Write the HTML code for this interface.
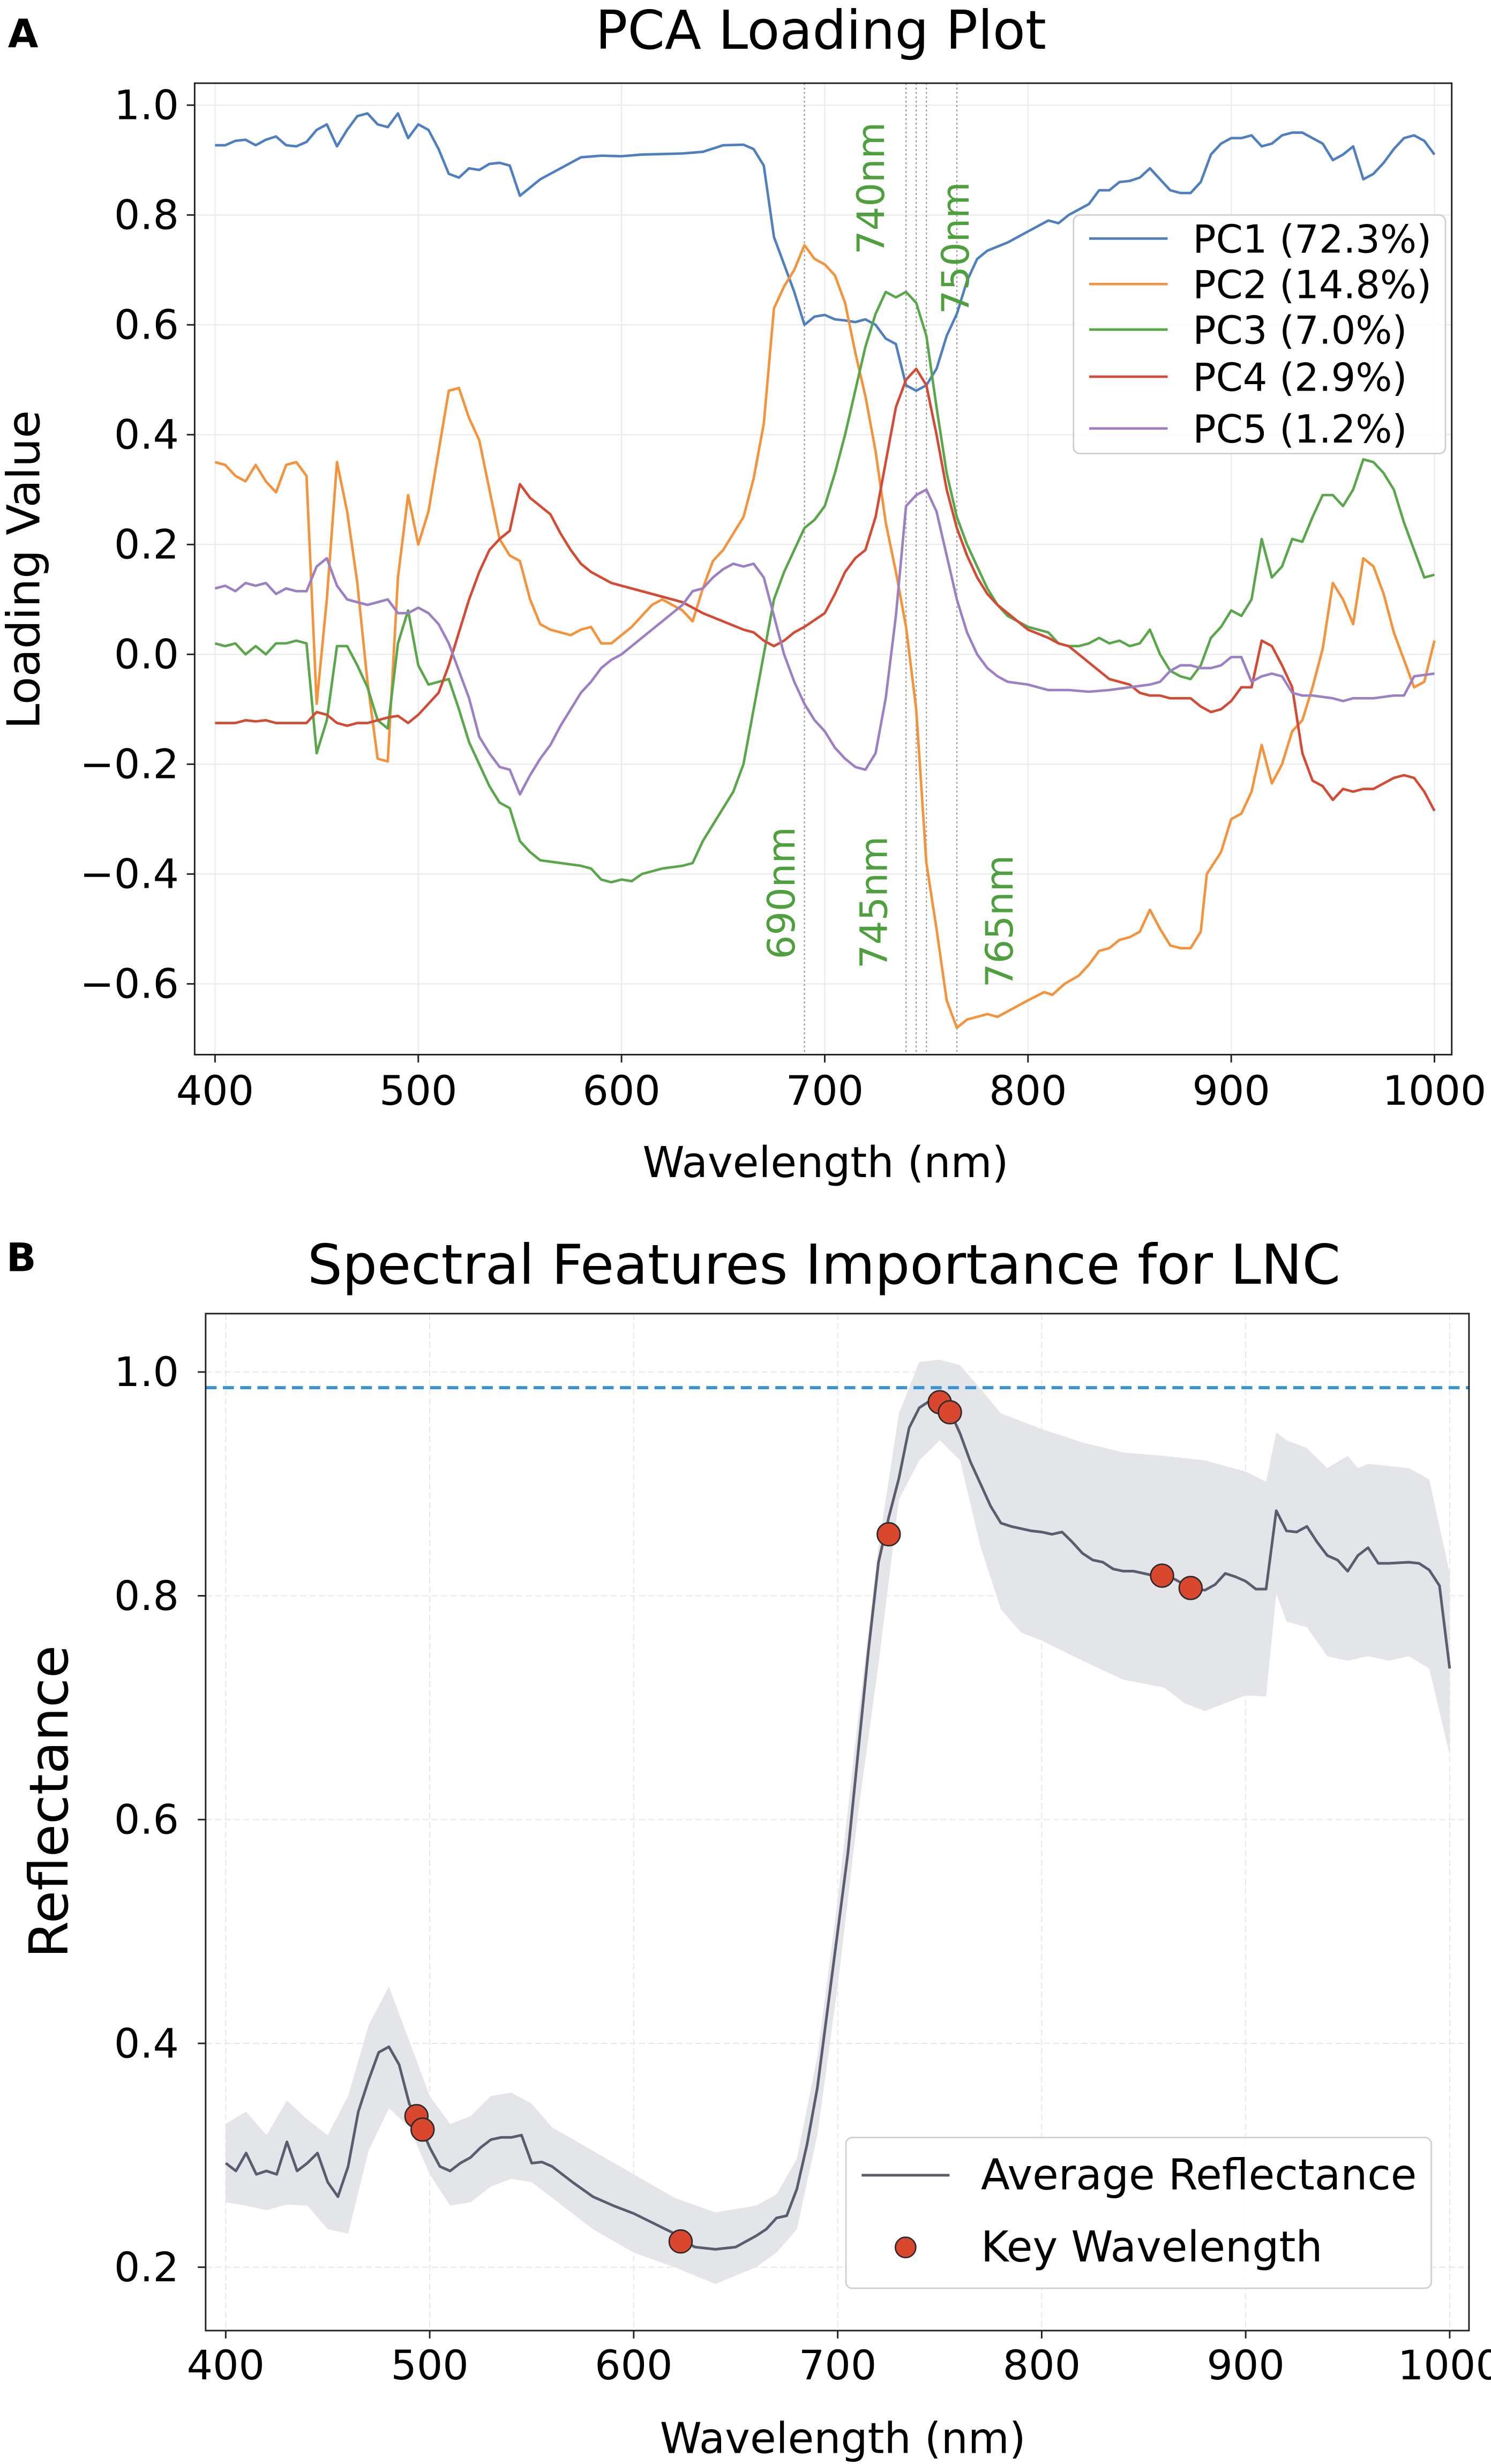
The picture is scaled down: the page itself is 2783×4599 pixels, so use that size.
<!DOCTYPE html>
<html><head><meta charset="utf-8">
<style>
html,body{margin:0;padding:0;background:#fff;}
svg{display:block;}
text{font-family:"DejaVu Sans","Liberation Sans",sans-serif;}
</style></head>
<body>
<svg id="fig" xmlns="http://www.w3.org/2000/svg" width="2783" height="4599" viewBox="0 0 950 1570">
<rect x="0" y="0" width="950" height="1570" fill="#fff"/>
<g id="panelA"></g>
<g id="panelB"></g>
</svg>
<script>
// ---------- Panel A data ----------
const pc1Wl=[400,405,410,415,420,425,430,435,440,445,450,455,460,465,470,475,480,485,490,495,500,505,510,515,520,525,530,535,540,545,550,555,560,570,580,590,600,610,620,630,640,650,660,665,670,675,680,685,690,695,700,705,710,715,720,725,730,735,740,745,750,755,760,765,770,775,780,790,800,810,815,820,830,835,840,845,850,855,860,865,870,875,880,885,890,895,900,905,910,915,920,925,930,935,940,945,950,955,960,965,970,975,980,985,990,995,1000];
const pc1Val=[0.927,0.927,0.935,0.937,0.927,0.937,0.943,0.927,0.925,0.933,0.955,0.965,0.925,0.955,0.98,0.985,0.965,0.96,0.985,0.94,0.965,0.955,0.92,0.875,0.868,0.885,0.882,0.893,0.895,0.89,0.835,0.85,0.865,0.885,0.905,0.908,0.907,0.91,0.911,0.912,0.915,0.927,0.928,0.92,0.89,0.76,0.71,0.66,0.60,0.615,0.618,0.61,0.608,0.605,0.61,0.60,0.575,0.565,0.49,0.48,0.49,0.52,0.58,0.62,0.68,0.72,0.735,0.75,0.77,0.79,0.785,0.80,0.82,0.845,0.845,0.86,0.862,0.868,0.885,0.865,0.845,0.84,0.84,0.86,0.91,0.93,0.94,0.94,0.945,0.925,0.93,0.945,0.95,0.95,0.94,0.93,0.90,0.91,0.925,0.865,0.875,0.895,0.92,0.94,0.945,0.935,0.91];

const pc2Wl=[400,405,410,415,420,425,430,435,440,445,450,455,460,465,470,475,480,485,490,495,500,505,510,515,520,525,530,535,540,545,550,555,560,565,570,575,580,585,590,595,600,605,610,615,620,625,630,635,640,645,650,655,660,665,670,675,680,685,690,695,700,705,710,715,720,725,730,735,740,745,750,755,760,765,770,780,785,790,800,808,812,818,825,830,835,840,845,850,855,860,865,870,875,880,885,888,895,900,905,910,915,920,925,930,935,940,945,950,955,960,965,970,975,980,990,995,1000];
const pc2Val=[0.35,0.345,0.325,0.315,0.345,0.315,0.295,0.345,0.35,0.325,-0.09,0.10,0.35,0.26,0.13,-0.05,-0.19,-0.195,0.14,0.29,0.20,0.26,0.37,0.48,0.485,0.43,0.39,0.30,0.21,0.18,0.17,0.10,0.055,0.045,0.04,0.035,0.045,0.05,0.02,0.02,0.035,0.05,0.07,0.09,0.10,0.09,0.08,0.06,0.12,0.17,0.19,0.22,0.25,0.32,0.42,0.63,0.67,0.70,0.745,0.72,0.71,0.69,0.64,0.55,0.47,0.37,0.24,0.15,0.05,-0.10,-0.38,-0.50,-0.63,-0.68,-0.665,-0.655,-0.66,-0.65,-0.63,-0.615,-0.62,-0.60,-0.585,-0.565,-0.54,-0.535,-0.52,-0.515,-0.505,-0.465,-0.50,-0.53,-0.535,-0.535,-0.505,-0.40,-0.36,-0.30,-0.29,-0.25,-0.165,-0.235,-0.20,-0.14,-0.12,-0.06,0.01,0.13,0.10,0.055,0.175,0.16,0.11,0.04,-0.06,-0.05,0.025];

const pc3Wl=[400,405,410,415,420,425,430,435,440,445,450,455,460,465,470,475,480,485,490,495,500,505,510,515,520,525,530,535,540,545,550,555,560,570,580,585,590,595,600,605,610,620,630,635,640,645,650,655,660,665,670,675,680,685,690,695,700,705,710,715,720,725,730,735,740,745,750,755,760,765,770,775,780,785,790,800,810,815,820,825,830,835,840,845,850,855,860,865,870,875,880,885,890,895,900,905,910,915,920,925,930,935,940,945,950,955,960,965,970,975,980,985,990,995,1000];
const pc3Val=[0.02,0.015,0.02,0.0,0.015,0.0,0.02,0.02,0.025,0.02,-0.18,-0.12,0.015,0.015,-0.02,-0.06,-0.12,-0.135,0.02,0.08,-0.02,-0.055,-0.05,-0.045,-0.10,-0.16,-0.20,-0.24,-0.27,-0.28,-0.34,-0.36,-0.375,-0.38,-0.385,-0.39,-0.41,-0.415,-0.41,-0.413,-0.40,-0.39,-0.385,-0.38,-0.34,-0.31,-0.28,-0.25,-0.20,-0.10,0.0,0.10,0.15,0.19,0.23,0.245,0.27,0.33,0.40,0.48,0.56,0.62,0.66,0.65,0.66,0.64,0.58,0.45,0.33,0.25,0.20,0.16,0.12,0.09,0.07,0.05,0.04,0.02,0.015,0.015,0.02,0.03,0.02,0.025,0.015,0.02,0.045,0.0,-0.03,-0.04,-0.045,-0.02,0.03,0.05,0.08,0.07,0.10,0.21,0.14,0.16,0.21,0.205,0.25,0.29,0.29,0.27,0.30,0.355,0.35,0.33,0.30,0.24,0.19,0.14,0.145];

const pc4Wl=[400,410,415,420,425,430,440,445,450,455,460,465,470,475,480,485,490,495,500,505,510,515,520,525,530,535,540,545,550,555,560,565,570,575,580,585,590,595,600,610,620,630,635,640,650,660,665,670,675,680,685,690,700,705,710,715,720,725,730,735,740,745,750,755,760,765,770,775,780,785,790,800,810,815,820,825,830,835,840,850,855,860,865,870,875,880,885,890,895,900,905,910,915,920,925,930,935,940,945,950,955,960,965,970,975,980,985,990,995,1000];
const pc4Val=[-0.125,-0.125,-0.12,-0.122,-0.12,-0.125,-0.125,-0.125,-0.105,-0.11,-0.125,-0.13,-0.125,-0.125,-0.12,-0.115,-0.112,-0.125,-0.11,-0.09,-0.07,-0.02,0.04,0.10,0.15,0.19,0.21,0.225,0.31,0.285,0.27,0.255,0.22,0.19,0.165,0.15,0.14,0.13,0.125,0.115,0.105,0.095,0.085,0.075,0.06,0.045,0.04,0.025,0.015,0.025,0.04,0.05,0.075,0.11,0.15,0.175,0.19,0.25,0.35,0.45,0.50,0.52,0.49,0.40,0.30,0.23,0.18,0.14,0.11,0.09,0.075,0.045,0.03,0.02,0.015,0.0,-0.015,-0.03,-0.045,-0.055,-0.07,-0.075,-0.075,-0.08,-0.08,-0.08,-0.095,-0.105,-0.10,-0.085,-0.06,-0.06,0.025,0.015,-0.02,-0.06,-0.18,-0.23,-0.24,-0.265,-0.245,-0.25,-0.245,-0.245,-0.235,-0.225,-0.22,-0.225,-0.25,-0.285];

const pc5Wl=[400,405,410,415,420,425,430,435,440,445,450,455,460,465,470,475,480,485,490,495,500,505,510,515,520,525,530,535,540,545,550,555,560,565,570,575,580,585,590,595,600,610,620,630,635,640,645,650,655,660,665,670,675,680,685,690,695,700,705,710,715,720,725,730,735,740,745,750,755,760,765,770,775,780,785,790,800,810,820,830,840,850,860,865,870,875,880,885,890,895,900,905,910,915,920,925,930,935,940,950,955,960,970,980,985,990,1000];
const pc5Val=[0.12,0.125,0.115,0.13,0.125,0.13,0.11,0.12,0.115,0.115,0.16,0.175,0.125,0.10,0.095,0.09,0.095,0.10,0.075,0.075,0.085,0.075,0.055,0.02,-0.03,-0.08,-0.15,-0.18,-0.205,-0.21,-0.255,-0.22,-0.19,-0.165,-0.13,-0.10,-0.07,-0.05,-0.025,-0.01,0.0,0.03,0.06,0.09,0.115,0.12,0.14,0.155,0.165,0.16,0.165,0.14,0.07,0.0,-0.05,-0.09,-0.12,-0.14,-0.17,-0.19,-0.205,-0.21,-0.18,-0.08,0.07,0.27,0.29,0.30,0.26,0.18,0.10,0.04,0.0,-0.025,-0.04,-0.05,-0.055,-0.065,-0.065,-0.068,-0.065,-0.06,-0.055,-0.05,-0.03,-0.02,-0.02,-0.025,-0.025,-0.02,-0.005,-0.005,-0.05,-0.04,-0.035,-0.04,-0.07,-0.075,-0.075,-0.08,-0.085,-0.08,-0.08,-0.075,-0.075,-0.04,-0.035];

const pcNames=["PC1 (72.3%)","PC2 (14.8%)","PC3 (7.0%)","PC4 (2.9%)","PC5 (1.2%)"];
const keyLines=[690,740,745,750,765];
const aXTicks=[400,500,600,700,800,900,1000];
const aYTicks=[1.0,0.8,0.6,0.4,0.2,0.0,-0.2,-0.4,-0.6];
const aYTickLabels=["1.0","0.8","0.6","0.4","0.2","0.0","\u22120.2","\u22120.4","\u22120.6"];

// ---------- Panel B data ----------
const meanWl=[400,405,410,415,420,425,430,435,440,445,450,455,460,465,470,475,480,485,490,495,500,505,510,515,520,525,530,535,540,545,550,555,560,570,580,590,600,610,620,625,630,640,650,655,660,665,670,675,680,685,690,695,700,705,710,715,720,725,730,735,740,745,750,755,760,765,770,775,780,785,790,795,800,805,810,815,820,825,830,835,840,845,850,855,860,865,870,875,880,885,890,895,900,905,910,915,920,925,930,935,940,945,950,955,960,965,970,980,985,990,995,1000];
const meanVal=[0.293,0.286,0.302,0.283,0.286,0.283,0.312,0.286,0.293,0.302,0.276,0.263,0.290,0.339,0.367,0.392,0.397,0.381,0.346,0.328,0.307,0.290,0.286,0.293,0.298,0.307,0.314,0.316,0.316,0.318,0.293,0.294,0.290,0.276,0.263,0.255,0.248,0.239,0.230,0.223,0.218,0.216,0.218,0.223,0.228,0.234,0.244,0.246,0.27,0.31,0.36,0.43,0.50,0.57,0.66,0.75,0.83,0.87,0.905,0.95,0.968,0.974,0.976,0.965,0.945,0.92,0.90,0.88,0.865,0.862,0.860,0.858,0.857,0.855,0.857,0.848,0.838,0.832,0.83,0.824,0.822,0.822,0.82,0.818,0.818,0.815,0.81,0.806,0.805,0.81,0.82,0.817,0.813,0.806,0.806,0.876,0.858,0.857,0.862,0.848,0.836,0.832,0.822,0.836,0.843,0.829,0.829,0.830,0.829,0.823,0.809,0.735];
const bandWl=[400,410,420,430,440,450,460,470,480,490,500,510,520,530,540,550,560,580,600,620,640,660,670,680,690,700,710,720,730,740,750,760,770,780,790,800,820,840,860,870,880,900,910,915,920,930,940,950,955,960,970,980,990,1000];
const bandUpper=[0.328,0.339,0.318,0.349,0.332,0.318,0.353,0.416,0.451,0.402,0.353,0.328,0.335,0.353,0.356,0.346,0.325,0.304,0.283,0.262,0.249,0.255,0.265,0.297,0.388,0.528,0.69,0.844,0.963,1.009,1.011,1.006,0.985,0.963,0.956,0.949,0.937,0.928,0.925,0.923,0.921,0.911,0.902,0.946,0.939,0.932,0.914,0.925,0.914,0.918,0.916,0.914,0.904,0.820];
const bandLower=[0.258,0.255,0.251,0.256,0.255,0.234,0.230,0.304,0.342,0.325,0.283,0.255,0.258,0.272,0.279,0.276,0.262,0.234,0.213,0.200,0.185,0.200,0.213,0.234,0.318,0.451,0.606,0.739,0.886,0.921,0.939,0.921,0.844,0.788,0.767,0.760,0.742,0.725,0.718,0.704,0.697,0.711,0.710,0.802,0.777,0.772,0.746,0.742,0.744,0.746,0.742,0.746,0.735,0.658];
const keyWl=[493.5,496.5,623,725,750,755,859,873];
const keyVal=[0.335,0.323,0.223,0.855,0.973,0.964,0.818,0.807];
const thresholdVal=[0.986];
const bXTicks=[400,500,600,700,800,900,1000];
const bYTicks=[0.2,0.4,0.6,0.8,1.0];
const bYTickLabels=["0.2","0.4","0.6","0.8","1.0"];

const NS="http://www.w3.org/2000/svg";
function mk(parent,tag,attrs,txt){
  const el=document.createElementNS(NS,tag);
  for(const k in attrs) el.setAttribute(k,attrs[k]);
  if(txt!==undefined) el.textContent=txt;
  parent.appendChild(el);
  return el;
}

// ===== Panel A =====
(function(){
  const g=document.getElementById('panelA');
  const L=124,R=925,T=53,B=672;
  const x=v=>137+(v-400)*(914-137)/600;
  const y=v=>67+(1-v)*(626.9-67)/1.6;
  let t;
  t=mk(g,'text',{x:5,y:30,'font-size':25,'font-weight':'bold'},'A');
  
  
  t=mk(g,'text',{x:523,y:31,'font-size':34,'text-anchor':'middle'},'PCA Loading Plot');
  
  
  aXTicks.forEach(v=>{
    const l=mk(g,'line',{x1:x(v),x2:x(v),y1:T,y2:B,stroke:'#ebebeb','stroke-width':0.8});
    
    
  });
  aYTicks.forEach(v=>{
    const l=mk(g,'line',{x1:L,x2:R,y1:y(v),y2:y(v),stroke:'#ebebeb','stroke-width':0.8});
    
    
  });
  keyLines.forEach(v=>{
    const l=mk(g,'line',{x1:x(v),x2:x(v),y1:T,y2:B,stroke:'#9a9a9a','stroke-width':0.8,'stroke-dasharray':'1.2,1.6'});
    
    
  });
  const colors=['#4f7fbf','#f5933c','#5aa64a','#d34b34','#9d80c4'];
  const wls=[pc1Wl,pc2Wl,pc3Wl,pc4Wl,pc5Wl];
  const vals=[pc1Val,pc2Val,pc3Val,pc4Val,pc5Val];
  for(let s=0;s<5;s++){
    const d=wls[s].map((w,i)=>(i?'L':'M')+x(w).toFixed(2)+','+y(vals[s][i]).toFixed(2)).join('');
    const p=mk(g,'path',{d:d,fill:'none',stroke:colors[s],'stroke-width':1.6,'stroke-linejoin':'round'});
    
    
  }
  const labs=[[740,555,120],[750,609,158],[690,498,569],[745,557,575],[765,637,587]];
  labs.forEach(a=>{
    const tx=mk(g,'text',{x:a[1],y:a[2],'font-size':24,fill:'#4e9f3d','text-anchor':'middle','dominant-baseline':'central',transform:'rotate(-90 '+a[1]+' '+a[2]+')'},a[0]+'nm');
    
    
  });
  const fr=mk(g,'rect',{x:L,y:T,width:R-L,height:B-T,fill:'none',stroke:'#222','stroke-width':1});
  
  
  aXTicks.forEach(v=>{
    const l=mk(g,'line',{x1:x(v),x2:x(v),y1:B,y2:B+5,stroke:'#222','stroke-width':1});
    
    
    const tx=mk(g,'text',{x:x(v),y:704,'font-size':26,'text-anchor':'middle'},String(v));
    
    
  });
  aYTicks.forEach((v,i)=>{
    const l=mk(g,'line',{x1:L-5,x2:L,y1:y(v),y2:y(v),stroke:'#222','stroke-width':1});
    
    
    const tx=mk(g,'text',{x:114,y:y(v)+9,'font-size':26,'text-anchor':'end'},aYTickLabels[i]);
    
    
  });
  t=mk(g,'text',{x:526,y:750,'font-size':27,'text-anchor':'middle'},'Wavelength (nm)');
  
  
  t=mk(g,'text',{x:25,y:363,'font-size':29,'text-anchor':'middle',transform:'rotate(-90 25 363)'},'Loading Value');
  
  
  const lg=mk(g,'g',{});
  
  
  mk(lg,'rect',{x:684,y:137,width:237,height:152,rx:4,fill:'#fff','fill-opacity':0.85,stroke:'#d0d0d0','stroke-width':1});
  const ly=[152,181,210,240,273];
  for(let s=0;s<5;s++){
    const e=mk(lg,'g',{});
    
    
    mk(e,'line',{x1:694,x2:744,y1:ly[s],y2:ly[s],stroke:colors[s],'stroke-width':1.6});
    mk(e,'text',{x:760,y:ly[s]+9,'font-size':24.5},pcNames[s]);
  }
})();

// ===== Panel B =====
(function(){
  const g=document.getElementById('panelB');
  const L=131,R=936,T=837,B=1485;
  const x=v=>143.8+(v-400)*(923.7-143.8)/600;
  const y=v=>874.2+(1-v)*(1444.6-874.2)/0.8;
  let t;
  t=mk(g,'text',{x:4,y:810,'font-size':25,'font-weight':'bold'},'B');
  
  
  t=mk(g,'text',{x:525,y:818,'font-size':35,'text-anchor':'middle'},'Spectral Features Importance for LNC');
  
  
  bXTicks.forEach(v=>{
    const l=mk(g,'line',{x1:x(v),x2:x(v),y1:T,y2:B,stroke:'#e8e8e8','stroke-width':0.7,'stroke-dasharray':'4,2'});
    
    
  });
  bYTicks.forEach(v=>{
    const l=mk(g,'line',{x1:L,x2:R,y1:y(v),y2:y(v),stroke:'#e8e8e8','stroke-width':0.7,'stroke-dasharray':'4,2'});
    
    
  });
  let d=bandWl.map((w,i)=>(i?'L':'M')+x(w).toFixed(2)+','+y(bandUpper[i]).toFixed(2)).join('');
  for(let i=bandWl.length-1;i>=0;i--) d+='L'+x(bandWl[i]).toFixed(2)+','+y(bandLower[i]).toFixed(2);
  const band=mk(g,'path',{d:d+'Z',fill:'#e3e5e9',stroke:'none'});
  
  
  const th=mk(g,'line',{x1:L,x2:R,y1:y(thresholdVal[0]),y2:y(thresholdVal[0]),stroke:'#3a93d4','stroke-width':2,'stroke-dasharray':'7,4'});
  
  
  const md=meanWl.map((w,i)=>(i?'L':'M')+x(w).toFixed(2)+','+y(meanVal[i]).toFixed(2)).join('');
  const ml=mk(g,'path',{d:md,fill:'none',stroke:'#5c5c6e','stroke-width':1.7,'stroke-linejoin':'round'});
  
  
  keyWl.forEach((w,i)=>{
    const c=mk(g,'circle',{cx:x(w),cy:y(keyVal[i]),r:7.3,fill:'#d9472f',stroke:'#2a2a2a','stroke-width':0.9});
    
    
  });
  const fr=mk(g,'rect',{x:L,y:T,width:R-L,height:B-T,fill:'none',stroke:'#222','stroke-width':1});
  
  
  bXTicks.forEach(v=>{
    const l=mk(g,'line',{x1:x(v),x2:x(v),y1:B,y2:B+5,stroke:'#222','stroke-width':1});
    
    
    const tx=mk(g,'text',{x:x(v),y:1516,'font-size':26,'text-anchor':'middle'},String(v));
    
    
  });
  bYTicks.forEach((v,i)=>{
    const l=mk(g,'line',{x1:L-5,x2:L,y1:y(v),y2:y(v),stroke:'#222','stroke-width':1});
    
    
    const tx=mk(g,'text',{x:114,y:y(v)+9,'font-size':26,'text-anchor':'end'},bYTickLabels[i]);
    
    
  });
  t=mk(g,'text',{x:537,y:1563,'font-size':27,'text-anchor':'middle'},'Wavelength (nm)');
  
  
  t=mk(g,'text',{x:43,y:1148,'font-size':34,'text-anchor':'middle',transform:'rotate(-90 43 1148)'},'Reflectance');
  
  
  const lg=mk(g,'g',{});
  
  
  mk(lg,'rect',{x:539,y:1362,width:373,height:96,rx:4,fill:'#fff','fill-opacity':0.85,stroke:'#d0d0d0','stroke-width':1});
  const e1=mk(lg,'g',{});
  
  
  mk(e1,'line',{x1:549,x2:605,y1:1386,y2:1386,stroke:'#5c5c6e','stroke-width':1.7});
  mk(e1,'text',{x:625,y:1395,'font-size':27},'Average Reflectance');
  const e2=mk(lg,'g',{});
  
  
  mk(e2,'circle',{cx:577,cy:1432,r:6.5,fill:'#d9472f',stroke:'#2a2a2a','stroke-width':0.9});
  mk(e2,'text',{x:625,y:1441,'font-size':27},'Key Wavelength');
})();
</script>
</body></html>
